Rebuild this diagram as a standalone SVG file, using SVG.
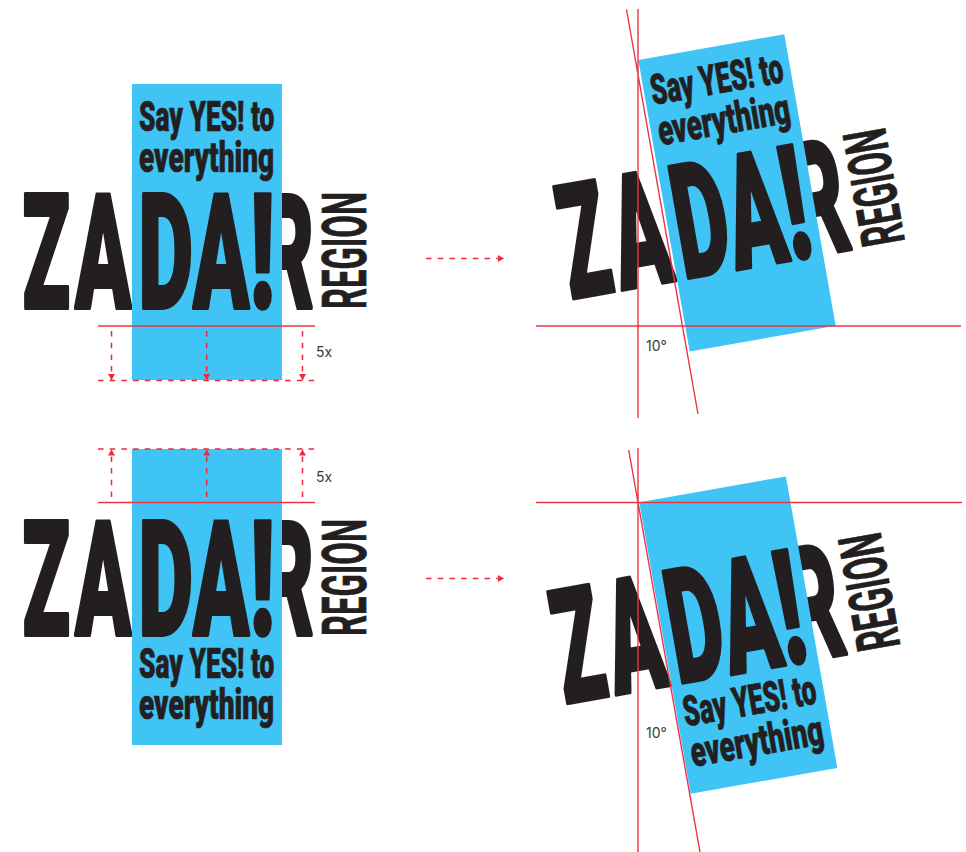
<svg xmlns="http://www.w3.org/2000/svg" xmlns:xlink="http://www.w3.org/1999/xlink" width="966" height="852" viewBox="0 0 966 852">
<style>
.z{font-family:"Roboto","Liberation Sans",sans-serif;font-weight:900;fill:#231f20;stroke:#231f20;stroke-linejoin:round;vector-effect:non-scaling-stroke}
.big{font-size:159px;stroke-width:3px}
.reg{font-size:60px;stroke-width:.6px;font-weight:700}
.say{font-size:46px;stroke-width:.6px}
.blue{fill:#40c4f6}
.s{stroke:#ee3344;stroke-width:1.4;fill:none}
.d{stroke:#ee2a3a;stroke-width:1.5;fill:none;stroke-dasharray:5.5 6.2}
.t{font-family:"Inter","Liberation Sans",sans-serif;font-size:14px;fill:#3a3a3a}
</style>
<defs>
<marker id="ah" markerUnits="userSpaceOnUse" markerWidth="8" markerHeight="8" refX="6" refY="3.5" orient="auto"><path d="M0 0L6 3.5L0 7Z" fill="#ee2a3a"/></marker>
<g id="back">
<text class="z big" transform="translate(22.5 307.5) scale(.49 1)">Z</text>
<text class="z big" transform="translate(75 307.5) scale(.52 1)">A</text>
<text class="z big" transform="translate(262 307.5) scale(.5 1)">R</text>
<text class="z reg" transform="translate(366 309) rotate(-90) scale(.6 1.02)" textLength="195" lengthAdjust="spacingAndGlyphs">REGION</text>
</g>
<g id="front">
<text class="z big" transform="translate(138.5 307.5) scale(.53 1)">D</text>
<text class="z big" transform="translate(193 307.5) scale(.52 1)">A</text>
<text class="z big" transform="translate(250 307.5) scale(.56 1)">!</text>
</g>
<g id="say">
<text class="z say" transform="translate(139 131) scale(.572 .92)" y="0">Say YES! to</text>
<text class="z say" transform="translate(139 172) scale(.61 .92)" y="0">everything</text>
</g>
</defs>
<g id="logo-top-left">
<use xlink:href="#back"/>
<rect class="blue" x="132" y="84" width="150" height="296"/>
<use xlink:href="#front"/>
<use xlink:href="#say"/>
</g>
<g id="logo-top-right" transform="translate(495.3 -.08) rotate(-10) scale(.988 1)">
<use xlink:href="#back"/>
<rect class="blue" x="132" y="84" width="150" height="296"/>
<use xlink:href="#front"/>
<use xlink:href="#say"/>
</g>
<g id="logo-bottom-left">
<use xlink:href="#back" y="327"/>
<rect class="blue" x="132" y="449" width="150" height="296"/>
<use xlink:href="#front" y="327"/>
<use xlink:href="#say" y="547"/>
</g>
<g id="logo-bottom-right" transform="translate(432.2 82.84) rotate(-10) scale(.993 1)">
<use xlink:href="#back" y="327"/>
<rect class="blue" x="132" y="449" width="150" height="296"/>
<use xlink:href="#front" y="327"/>
<use xlink:href="#say" y="547"/>
</g>
<g id="connectors">
<path class="s" d="M98 326H315"/>
<path class="d" d="M98 380.5H316"/>
<path class="d" marker-end="url(#ah)" d="M111.5 331V380"/>
<path class="d" marker-end="url(#ah)" d="M206.7 331V380"/>
<path class="d" marker-end="url(#ah)" d="M302.5 331V380"/>
<path class="d" marker-end="url(#ah)" d="M426 258.5H504"/>
<path class="s" d="M638 9V418M626.5 9.5L698 414M536 326H961"/>
<path class="s" d="M98 502.5H315"/>
<path class="d" d="M98 449H316"/>
<path class="d" marker-end="url(#ah)" d="M111.5 497V449.5"/>
<path class="d" marker-end="url(#ah)" d="M206.7 497V449.5"/>
<path class="d" marker-end="url(#ah)" d="M302.5 497V449.5"/>
<path class="d" marker-end="url(#ah)" d="M426 578.5H504"/>
<path class="s" d="M638 448V852M628.7 450L700 852M536 502.5H962"/>
</g>
<text class="t" x="316" y="356.5">5x</text>
<text class="t" x="316" y="481.5">5x</text>
<text class="t" x="646" y="351">10°</text>
<text class="t" x="646" y="738">10°</text>
</svg>
